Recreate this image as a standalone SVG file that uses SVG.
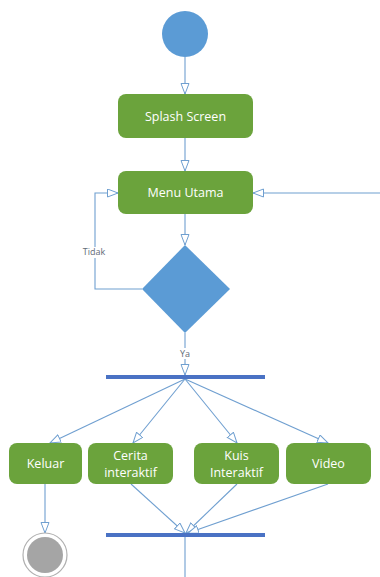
<svg xmlns="http://www.w3.org/2000/svg" width="380" height="577" viewBox="0 0 380 577">
  <style>
    .act { fill: #6ba33c; }
    .lbl { fill: #ffffff; font-family: "Open Sans", "Liberation Sans", sans-serif; font-size: 12.5px; text-anchor: middle; }
    .edge { fill: none; stroke: #6f9fd0; stroke-width: 1.1; }
    .guard { fill: #5f6b78; font-family: "Open Sans", "Liberation Sans", sans-serif; font-size: 9px; text-anchor: middle; }
    .bar { fill: #4a72c4; }
  </style>
  <defs>
    <marker id="open" markerUnits="userSpaceOnUse" markerWidth="12" markerHeight="10" refX="11" refY="4.5" orient="auto">
      <path d="M0.5,0.5 L11,4.5 L0.5,8.5 z" fill="#ffffff" stroke="#6f9fd0" stroke-width="1"/>
    </marker>
  </defs>
  <rect width="380" height="577" fill="#ffffff"/>

  <g id="connectors">
    <line class="edge" x1="185" y1="57" x2="185" y2="94" marker-end="url(#open)"/>
    <line class="edge" x1="185" y1="138" x2="185" y2="171" marker-end="url(#open)"/>
    <line class="edge" x1="185" y1="214" x2="185" y2="245" marker-end="url(#open)"/>
    <polyline class="edge" points="142,289 95,289 95,193 118,193" marker-end="url(#open)"/>
    <line class="edge" x1="380" y1="193" x2="253" y2="193" marker-end="url(#open)"/>
    <line class="edge" x1="185" y1="333" x2="185" y2="375" marker-end="url(#open)"/>
    <line class="edge" x1="185" y1="379" x2="50" y2="443" marker-end="url(#open)"/>
    <line class="edge" x1="185" y1="379" x2="133" y2="443" marker-end="url(#open)"/>
    <line class="edge" x1="185" y1="379" x2="237" y2="443" marker-end="url(#open)"/>
    <line class="edge" x1="185" y1="379" x2="328" y2="443" marker-end="url(#open)"/>
    <line class="edge" x1="131" y1="484" x2="185" y2="533" marker-end="url(#open)"/>
    <line class="edge" x1="237" y1="484" x2="186" y2="533" marker-end="url(#open)"/>
    <line class="edge" x1="328" y1="484" x2="188" y2="533" marker-end="url(#open)"/>
    <line class="edge" x1="45" y1="484" x2="45" y2="533" marker-end="url(#open)"/>
    <line class="edge" x1="185" y1="537" x2="185" y2="577"/>
    <rect x="82" y="247" width="25" height="11" fill="#ffffff"/>
    <text class="guard" x="94" y="255">Tidak</text>
    <rect x="178" y="348" width="14" height="11" fill="#ffffff"/>
    <text class="guard" x="185" y="357">Ya</text>
  </g>

  <g id="start">
    <circle cx="185" cy="34" r="23" fill="#5b9bd5"/>
  </g>

  <g id="splash">
    <rect class="act" x="118" y="94" width="135" height="44" rx="8"/>
    <text class="lbl" x="185.5" y="120.5">Splash Screen</text>
  </g>

  <g id="menu">
    <rect class="act" x="118" y="171" width="135" height="43" rx="8"/>
    <text class="lbl" x="185.5" y="197">Menu Utama</text>
  </g>

  <g id="decision">
    <polygon points="185,245 230,289 185,333 142,289" fill="#5b9bd5"/>
  </g>

  <g id="fork">
    <rect class="bar" x="106" y="375" width="159" height="4"/>
  </g>

  <g id="keluar">
    <rect class="act" x="9" y="443" width="73" height="41" rx="8"/>
    <text class="lbl" x="45.5" y="468">Keluar</text>
  </g>

  <g id="cerita">
    <rect class="act" x="88" y="443" width="85" height="41" rx="8"/>
    <text class="lbl" x="130.5" y="460">Cerita</text>
    <text class="lbl" x="130.5" y="477">interaktif</text>
  </g>

  <g id="kuis">
    <rect class="act" x="194" y="443" width="85" height="41" rx="8"/>
    <text class="lbl" x="236.5" y="460">Kuis</text>
    <text class="lbl" x="236.5" y="477">Interaktif</text>
  </g>

  <g id="video">
    <rect class="act" x="286" y="443" width="85" height="41" rx="8"/>
    <text class="lbl" x="328.5" y="468">Video</text>
  </g>

  <g id="join">
    <rect class="bar" x="106" y="533" width="159" height="4"/>
  </g>

  <g id="end">
    <circle cx="45" cy="555" r="22" fill="#ffffff" stroke="#b0b0b0" stroke-width="1.2"/>
    <circle cx="45" cy="555" r="18" fill="#a5a5a5"/>
  </g>
</svg>
